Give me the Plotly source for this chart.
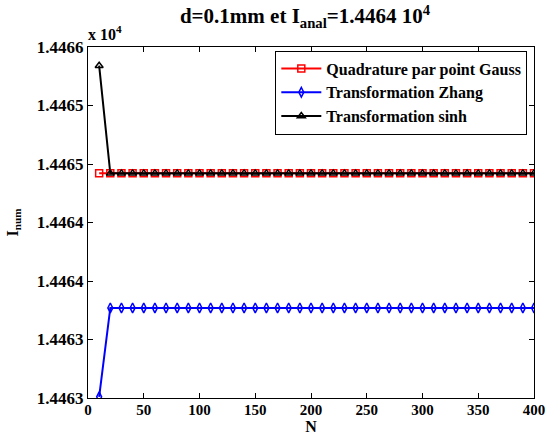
import plotly.graph_objects as go

N = [10, 20, 30, 40, 50, 60, 70, 80, 90, 100, 110, 120, 130, 140, 150, 160, 170, 180, 190, 200,
     210, 220, 230, 240, 250, 260, 270, 280, 290, 300, 310, 320, 330, 340, 350, 360, 370, 380, 390, 400]
gauss = [14464.92, 14464.92, 14464.92, 14464.92, 14464.92, 14464.92, 14464.92, 14464.92, 14464.92, 14464.92,
         14464.92, 14464.92, 14464.92, 14464.92, 14464.92, 14464.92, 14464.92, 14464.92, 14464.92, 14464.92,
         14464.92, 14464.92, 14464.92, 14464.92, 14464.92, 14464.92, 14464.92, 14464.92, 14464.92, 14464.92,
         14464.92, 14464.92, 14464.92, 14464.92, 14464.92, 14464.92, 14464.92, 14464.92, 14464.92, 14464.92]
zhang = [14463.01, 14463.77, 14463.77, 14463.77, 14463.77, 14463.77, 14463.77, 14463.77, 14463.77, 14463.77,
         14463.77, 14463.77, 14463.77, 14463.77, 14463.77, 14463.77, 14463.77, 14463.77, 14463.77, 14463.77,
         14463.77, 14463.77, 14463.77, 14463.77, 14463.77, 14463.77, 14463.77, 14463.77, 14463.77, 14463.77,
         14463.77, 14463.77, 14463.77, 14463.77, 14463.77, 14463.77, 14463.77, 14463.77, 14463.77, 14463.77]
sinh = [14465.84, 14464.92, 14464.92, 14464.92, 14464.92, 14464.92, 14464.92, 14464.92, 14464.92, 14464.92,
        14464.92, 14464.92, 14464.92, 14464.92, 14464.92, 14464.92, 14464.92, 14464.92, 14464.92, 14464.92,
        14464.92, 14464.92, 14464.92, 14464.92, 14464.92, 14464.92, 14464.92, 14464.92, 14464.92, 14464.92,
        14464.92, 14464.92, 14464.92, 14464.92, 14464.92, 14464.92, 14464.92, 14464.92, 14464.92, 14464.92]

y_tickvals = [14463, 14463.5, 14464, 14464.5, 14465, 14465.5, 14466]
y_ticktext = ["1.4463", "1.4463", "1.4464", "1.4464", "1.4465", "1.4465", "1.4466"]
x_tickvals = [0, 50, 100, 150, 200, 250, 300, 350, 400]

FONT = "Liberation Serif, Times New Roman, serif"

fig = go.Figure()
fig.add_trace(go.Scatter(x=N, y=gauss, mode="lines+markers", name="<b>Quadrature par point Gauss</b>",
                         line=dict(color="#ff0000", width=2),
                         marker=dict(symbol="square-open", size=7, color="#ff0000", line=dict(width=1.5))))
fig.add_trace(go.Scatter(x=N, y=zhang, mode="lines+markers", name="<b>Transformation Zhang</b>",
                         line=dict(color="#0000ff", width=2),
                         marker=dict(symbol="diamond-tall-open", size=7, color="#0000ff", line=dict(width=1.5))))
fig.add_trace(go.Scatter(x=N, y=sinh, mode="lines+markers", name="<b>Transformation sinh</b>",
                         line=dict(color="#000000", width=2),
                         marker=dict(symbol="triangle-up-open", size=7, color="#000000", line=dict(width=1.5))))

axis_common = dict(showline=True, linecolor="black", linewidth=1, mirror="ticks",
                   ticks="inside", ticklen=5, tickcolor="black", showgrid=False, zeroline=False,
                   automargin=False, ticklabeloverflow="allow")

fig.update_xaxes(range=[0, 400], tickvals=x_tickvals, ticktext=["<b>%d</b>" % v for v in x_tickvals],
                 tickfont=dict(family=FONT, size=15, color="black"),
                 title=dict(text="<b>N</b>", font=dict(family=FONT, size=16, color="black"), standoff=0),
                 ticklabelstandoff=-2,
                 **axis_common)
fig.update_yaxes(range=[14463, 14466], tickvals=y_tickvals, ticktext=["<b>%s</b>" % t for t in y_ticktext],
                 tickfont=dict(family=FONT, size=17, color="black"),
                 title=dict(text="<b>I<sub>num</sub></b>", font=dict(family=FONT, size=16, color="black"), standoff=14),
                 **axis_common)

fig.update_layout(
    width=546, height=441,
    margin=dict(l=88, r=12, t=47, b=43, autoexpand=False),
    paper_bgcolor="white", plot_bgcolor="white",
    title=dict(text="<b>d=0.1mm et I<sub>anal</sub>=1.4464 10<sup>4</sup></b>",
               font=dict(family=FONT, size=21, color="black"),
               x=305/546, xanchor="center", y=1 - 16/441, yref="container", yanchor="middle"),
    showlegend=True,
    legend=dict(x=0.985, xanchor="right", y=0.99, yanchor="top",
                bgcolor="white", bordercolor="black", borderwidth=1,
                font=dict(family=FONT, size=16, color="black"),
                tracegroupgap=0, itemwidth=40),
    annotations=[dict(text="<b>x 10<sup>4</sup></b>", xref="paper", yref="paper",
                      x=-0.005, y=1.005, xanchor="left", yanchor="bottom", showarrow=False,
                      font=dict(family=FONT, size=16, color="black"))],
)

fig.write_html("out.html", config={"displayModeBar": False},
               post_script="document.body.style.margin='0';document.body.style.overflow='hidden';")
